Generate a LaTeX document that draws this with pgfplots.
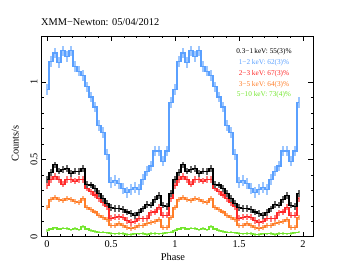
\documentclass[border=0pt]{standalone}
\usepackage{fontspec}
\setmainfont{Liberation Serif}
\usepackage{pgfplots}
\usepackage{pgfplotstable}
\pgfplotsset{compat=1.18}
\definecolor{lblue}{RGB}{90,160,255}
\definecolor{lred}{RGB}{255,40,40}
\definecolor{lorange}{RGB}{255,125,40}
\definecolor{lgreen}{RGB}{115,230,45}
\pgfplotstableread{
ph b k r o g
0.00000 0.955 0.370 0.330 0.190 0.040
0.03125 1.133 0.415 0.370 0.240 0.050
0.06250 1.190 0.465 0.390 0.255 0.058
0.09375 1.127 0.425 0.370 0.240 0.050
0.12500 1.203 0.435 0.340 0.235 0.055
0.15625 1.166 0.440 0.370 0.250 0.052
0.18750 1.203 0.410 0.370 0.240 0.045
0.21875 1.100 0.425 0.360 0.225 0.052
0.25000 1.073 0.420 0.370 0.220 0.045
0.28125 1.045 0.440 0.370 0.245 0.065
0.31250 0.970 0.340 0.315 0.190 0.050
0.34375 0.905 0.335 0.290 0.175 0.040
0.37500 0.840 0.310 0.270 0.160 0.035
0.40625 0.720 0.280 0.245 0.140 0.030
0.43750 0.675 0.250 0.220 0.125 0.030
0.46875 0.535 0.215 0.195 0.110 0.025
0.50000 0.350 0.190 0.120 0.070 0.020
0.53125 0.365 0.185 0.125 0.075 0.018
0.56250 0.343 0.182 0.130 0.085 0.020
0.59375 0.310 0.177 0.125 0.075 0.020
0.62500 0.285 0.160 0.105 0.060 0.015
0.65625 0.307 0.148 0.092 0.055 0.015
0.68750 0.317 0.136 0.100 0.060 0.018
0.71875 0.305 0.155 0.120 0.070 0.018
0.75000 0.370 0.180 0.115 0.075 0.020
0.78125 0.425 0.210 0.120 0.085 0.015
0.81250 0.458 0.205 0.155 0.090 0.020
0.84375 0.555 0.240 0.160 0.100 0.020
0.87500 0.555 0.265 0.190 0.110 0.018
0.90625 0.490 0.205 0.140 0.060 0.020
0.93750 0.555 0.195 0.140 0.060 0.025
0.96875 0.870 0.280 0.245 0.125 0.030
1.00000 0.955 0.370 0.330 0.190 0.040
1.03125 1.133 0.415 0.370 0.240 0.050
1.06250 1.190 0.465 0.390 0.255 0.058
1.09375 1.127 0.425 0.370 0.240 0.050
1.12500 1.203 0.435 0.340 0.235 0.055
1.15625 1.166 0.440 0.370 0.250 0.052
1.18750 1.203 0.410 0.370 0.240 0.045
1.21875 1.100 0.425 0.360 0.225 0.052
1.25000 1.073 0.420 0.370 0.220 0.045
1.28125 1.045 0.440 0.370 0.245 0.065
1.31250 0.970 0.340 0.315 0.190 0.050
1.34375 0.905 0.335 0.290 0.175 0.040
1.37500 0.840 0.310 0.270 0.160 0.035
1.40625 0.720 0.280 0.245 0.140 0.030
1.43750 0.675 0.250 0.220 0.125 0.030
1.46875 0.535 0.215 0.195 0.110 0.025
1.50000 0.350 0.190 0.120 0.070 0.020
1.53125 0.365 0.185 0.125 0.075 0.018
1.56250 0.343 0.182 0.130 0.085 0.020
1.59375 0.310 0.177 0.125 0.075 0.020
1.62500 0.285 0.160 0.105 0.060 0.015
1.65625 0.307 0.148 0.092 0.055 0.015
1.68750 0.317 0.136 0.100 0.060 0.018
1.71875 0.305 0.155 0.120 0.070 0.018
1.75000 0.370 0.180 0.115 0.075 0.020
1.78125 0.425 0.210 0.120 0.085 0.015
1.81250 0.458 0.205 0.155 0.090 0.020
1.84375 0.555 0.240 0.160 0.100 0.020
1.87500 0.555 0.265 0.190 0.110 0.018
1.90625 0.490 0.205 0.140 0.060 0.020
1.93750 0.555 0.195 0.140 0.060 0.025
1.96875 0.870 0.280 0.245 0.125 0.030
}\data
\pgfplotsset{
  stepl/.style={draw=#1, line width=1.05bp, const plot mark mid, mark=none},
  errb/.style 2 args={draw=none, mark=none, forget plot,
    error bars/.cd, y dir=both, y fixed=#2, error mark=none,
    error bar style={draw=#1!60, line width=1.2bp}},
}
\begin{document}
\begin{tikzpicture}
\begin{axis}[
  scale only axis, width=272bp, height=200.7bp,
  xmin=-0.047, xmax=2.078, ymin=0, ymax=1.3,
  xtick={0,0.5,1,1.5,2}, ytick={0,0.5,1},
  minor x tick num=4, minor y tick num=4,
  tick align=inside, xtick pos=both, ytick pos=both,
  major tick length=5bp, minor tick length=2.5bp,
  axis line style={line width=0.7bp}, tick style={line width=0.6bp, black},
  /pgf/number format/assume math mode=true,
  ticklabel style={font=\fontsize{10.4}{12}\selectfont},
  yticklabel style={rotate=90, anchor=south},
  xlabel={Phase}, ylabel={Counts/s},
  label style={font=\fontsize{10.4}{12}\selectfont},
  xlabel style={at={(axis description cs:0.485,-0.101)}, anchor=center},
  ylabel style={at={(axis description cs:-0.095,0.464)}, anchor=center},
  title={XMM−Newton: 05/04/2012},
  title style={at={(axis description cs:0,1)}, anchor=base west, inner sep=0pt, yshift=4.5bp, font=\fontsize{10.4}{12}\selectfont},
]
\addplot[errb={lgreen}{0.008}] table[x=ph, y=g] {\data};
\addplot[errb={lorange}{0.016}] table[x=ph, y=o] {\data};
\addplot[errb={lred}{0.02}] table[x=ph, y=r] {\data};
\addplot[errb={black}{0.022}] table[x=ph, y=k] {\data};
\addplot[errb={lblue}{0.035}] table[x=ph, y=b] {\data};
\addplot[stepl=lgreen] table[x=ph, y=g] {\data};
\addplot[stepl=lorange] table[x=ph, y=o] {\data};
\addplot[stepl=lred] table[x=ph, y=r] {\data};
\addplot[stepl=black] table[x=ph, y=k] {\data};
\addplot[stepl=lblue] table[x=ph, y=b] {\data};
\begin{scope}[font=\fontsize{7.3}{8}\selectfont]
\node[text=black] at (axis cs:1.695,1.196) {0.3−1\,keV: 55(3)\%};
\node[text=lblue] at (axis cs:1.695,1.127) {1−2 keV: 62(3)\%};
\node[text=lred] at (axis cs:1.695,1.057) {2−3 keV: 67(3)\%};
\node[text=lorange] at (axis cs:1.695,0.987) {3−5 keV: 64(3)\%};
\node[text=lgreen] at (axis cs:1.695,0.918) {5−10 keV: 73(4)\%};
\end{scope}
\end{axis}
\path (current axis.south west) ++(-41bp,-36.3bp) rectangle ++(353bp,273bp);
\end{tikzpicture}
\end{document}
